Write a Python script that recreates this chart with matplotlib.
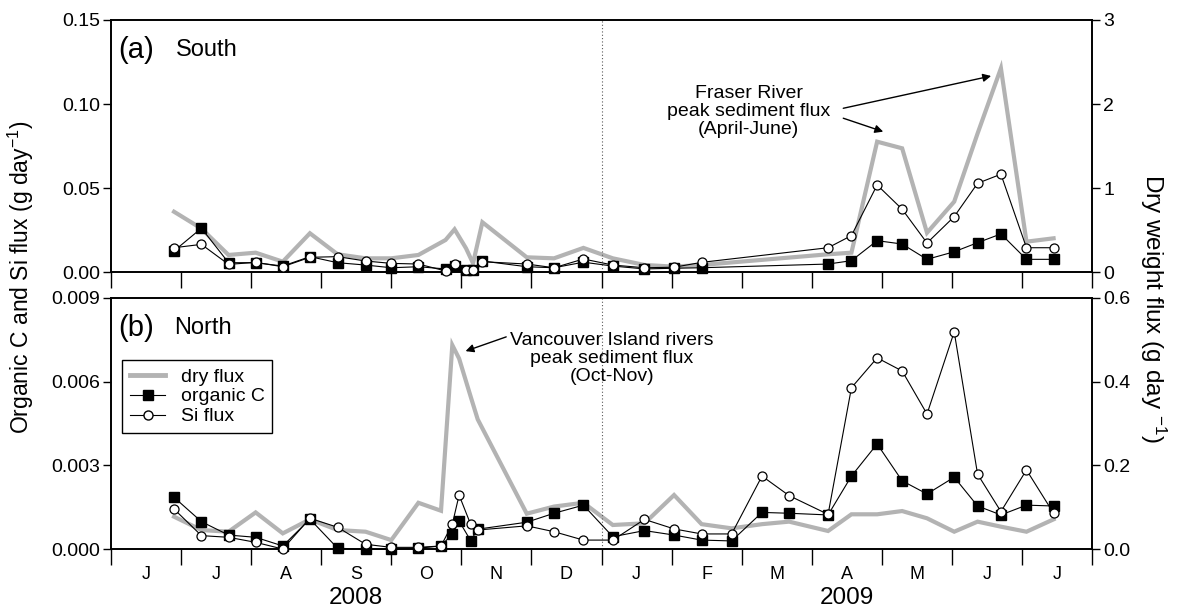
import numpy as np
import pandas as pd
import matplotlib
matplotlib.use('Agg')
import matplotlib.pyplot as plt
from matplotlib.lines import Line2D
from matplotlib.ticker import FormatStrFormatter

plt.rcParams['font.family'] = ['Liberation Sans', 'DejaVu Sans']
plt.rcParams['mathtext.fontset'] = 'custom'
plt.rcParams['mathtext.rm'] = 'Liberation Sans'
plt.rcParams['mathtext.it'] = 'Liberation Sans:italic'

# (a) South
south_dates = ['2008-06-28', '2008-07-10', '2008-07-22', '2008-08-03', '2008-08-15', '2008-08-27',
               '2008-09-08', '2008-09-20', '2008-10-01', '2008-10-13', '2008-10-25', '2008-10-29',
               '2008-11-03', '2008-11-06', '2008-11-10', '2008-11-29', '2008-12-11', '2008-12-24',
               '2009-01-06', '2009-01-20', '2009-02-02', '2009-02-13', '2009-04-08', '2009-04-18',
               '2009-04-29', '2009-05-10', '2009-05-21', '2009-06-02', '2009-06-12', '2009-06-22',
               '2009-07-03', '2009-07-15']
south_orgc = [0.0127, 0.0262, 0.0057, 0.0057, 0.0037, 0.0093, 0.0057, 0.0043, 0.0027, 0.0033,
              0.0020, 0.0040, 0.0014, 0.0014, 0.0067, 0.0033, 0.0027, 0.0060, 0.0037, 0.0020,
              0.0024, 0.0027, 0.0049, 0.0069, 0.0188, 0.0168, 0.0077, 0.0122, 0.0176, 0.0228,
              0.0077, 0.0077]
south_si = [0.0146, 0.0166, 0.0047, 0.0059, 0.0033, 0.0089, 0.0093, 0.0067, 0.0053, 0.0049,
            0.0008, 0.0049, 0.0014, 0.0014, 0.0063, 0.0049, 0.0027, 0.0079, 0.0043, 0.0027,
            0.0030, 0.0059, 0.0146, 0.0218, 0.0519, 0.0375, 0.0174, 0.0331, 0.0529, 0.0583,
            0.0146, 0.0146]
south_dry = [0.72, 0.52, 0.206, 0.233, 0.126, 0.464, 0.214, 0.166, 0.166, 0.206,
             0.384, 0.511, 0.285, 0.107, 0.595, 0.178, 0.166, 0.29, 0.166, 0.087,
             0.067, 0.087, 0.214, 0.233, 1.553, 1.474, 0.47, 0.84, 1.65, 2.426,
             0.364, 0.404]

# (b) North
north_dates = ['2008-06-28', '2008-07-10', '2008-07-22', '2008-08-03', '2008-08-15', '2008-08-27',
               '2008-09-08', '2008-09-20', '2008-10-01', '2008-10-13', '2008-10-23', '2008-10-28',
               '2008-10-31', '2008-11-05', '2008-11-08', '2008-11-29', '2008-12-11', '2008-12-24',
               '2009-01-06', '2009-01-20', '2009-02-02', '2009-02-13', '2009-02-25', '2009-03-10',
               '2009-03-22', '2009-04-08', '2009-04-18', '2009-04-29', '2009-05-10', '2009-05-21',
               '2009-06-02', '2009-06-12', '2009-06-22', '2009-07-03', '2009-07-15']
north_orgc = [0.00186, 0.00099, 0.00051, 0.00043, 0.00012, 0.00108, 0.00004, 0.0, 0.0, 0.00004,
              0.00012, 0.00055, 0.00101, 0.00031, 0.00072, 0.00097, 0.00129, 0.00158, 0.00045, 0.00067,
              0.00051, 0.00033, 0.00030, 0.00132, 0.00129, 0.00123, 0.00262, 0.00377, 0.00245, 0.00198,
              0.00258, 0.00155, 0.00123, 0.00158, 0.00155]
north_si = [0.00144, 0.00049, 0.00043, 0.00025, 0.00001, 0.00111, 0.00079, 0.00018, 0.00007, 0.00007,
            0.00012, 0.00090, 0.00194, 0.00089, 0.00069, 0.00084, 0.00063, 0.00033, 0.00033, 0.00107,
            0.00073, 0.00055, 0.00055, 0.00262, 0.00192, 0.00125, 0.00578, 0.00685, 0.00638, 0.00484,
            0.00778, 0.00269, 0.00135, 0.00284, 0.00129]
north_dry = [0.0778, 0.046, 0.042, 0.088, 0.038, 0.0715, 0.046, 0.042, 0.022, 0.111,
             0.092, 0.487, 0.455, 0.364, 0.31, 0.085, 0.102, 0.111, 0.058, 0.062,
             0.1295, 0.06, 0.05, 0.06, 0.066, 0.0437, 0.0835, 0.0835, 0.0913, 0.074,
             0.042, 0.066, 0.054, 0.042, 0.0715]

month_labels = ['J', 'J', 'A', 'S', 'O', 'N', 'D', 'J', 'F', 'M', 'A', 'M', 'J', 'J']
year_labels = ['2008', '2009']

GREY = '#b3b3b3'


def month_pos(dates):
    d = pd.to_datetime(pd.Series(dates))
    return ((d.dt.year - 2008) * 12 + d.dt.month - 6 + (d.dt.day - 1) / d.dt.days_in_month).to_numpy()


def panel(ax, dates, orgc, si, dry, ymax, dmax, yfmt, dfmt):
    x = month_pos(dates)
    ax2 = ax.twinx()
    ax2.plot(x, dry, color=GREY, lw=3.0, solid_joinstyle='miter', clip_on=False)
    ax.plot(x, orgc, color='black', lw=0.8, marker='s', ms=6.5, mfc='black', mec='black', clip_on=False, zorder=3)
    ax.plot(x, si, color='black', lw=0.8, marker='o', ms=6.5, mfc='white', mec='black', mew=0.9, clip_on=False, zorder=4)
    ax.set_zorder(ax2.get_zorder() + 1)
    ax.patch.set_visible(False)

    ax.set_xlim(0, 14)
    ax.set_ylim(0, ymax)
    ax2.set_ylim(0, dmax)
    ax.set_yticks(np.linspace(0, ymax, 4))
    ax2.set_yticks(np.linspace(0, dmax, 4))
    ax.yaxis.set_major_formatter(FormatStrFormatter(yfmt))
    ax2.yaxis.set_major_formatter(FormatStrFormatter(dfmt))
    ax.set_xticks(np.arange(0, 15))
    ax.set_xticks(np.arange(14) + 0.5, minor=True)
    ax.tick_params(axis='x', which='major', length=11.5, width=1, labelbottom=False)
    ax.tick_params(axis='y', length=6, width=1, labelsize=14, pad=2)
    ax2.tick_params(axis='y', length=6, width=1, labelsize=14, pad=2)
    for a in (ax, ax2):
        for s in a.spines.values():
            s.set_linewidth(1.2)
    ax.axvline(7, color='0.35', ls=(0, (1, 2)), lw=0.8, zorder=0)
    return ax2


fig = plt.figure(figsize=(11.77, 6.09), dpi=100)
ax_s = fig.add_axes([0.0943, 0.5529, 0.8335, 0.4143])
ax_n = fig.add_axes([0.0943, 0.0980, 0.8335, 0.4131])

panel(ax_s, south_dates, south_orgc, south_si, south_dry, 0.15, 3, '%.2f', '%d')
panel(ax_n, north_dates, north_orgc, north_si, north_dry, 0.009, 0.6, '%.3f', '%.1f')

ax_s.tick_params(axis='x', which='minor', length=0, labelbottom=False)
ax_n.tick_params(axis='x', which='minor', length=0, labelbottom=True, labelsize=13, pad=12)
ax_n.set_xticklabels(month_labels, minor=True)

for i, yr in enumerate(year_labels):
    ax_n.text(3.5 + 7 * i, -0.195, yr, transform=ax_n.get_xaxis_transform(),
              ha='center', va='center', fontsize=17.5)

# panel labels
ax_s.text(0.0077, 0.881, '(a)', transform=ax_s.transAxes, fontsize=21, va='center', ha='left')
ax_s.text(0.066, 0.881, 'South', transform=ax_s.transAxes, fontsize=17, va='center', ha='left')
ax_n.text(0.0077, 0.878, '(b)', transform=ax_n.transAxes, fontsize=21, va='center', ha='left')
ax_n.text(0.064, 0.878, 'North', transform=ax_n.transAxes, fontsize=17, va='center', ha='left')

# annotations
arrow = dict(arrowstyle='-|>', color='black', lw=1.0, mutation_scale=12, shrinkA=0, shrinkB=0)
ax_s.text(9.1, 0.0955, 'Fraser River\npeak sediment flux\n(April-June)', ha='center', va='center',
          fontsize=14, linespacing=1.1)
ax_s.annotate('', xy=(12.56, 0.1167), xytext=(10.45, 0.0975), arrowprops=arrow)
ax_s.annotate('', xy=(11.02, 0.0836), xytext=(10.45, 0.0916), arrowprops=arrow)

ax_n.text(7.15, 0.00683, 'Vancouver Island rivers\npeak sediment flux\n(Oct-Nov)', ha='center', va='center',
          fontsize=14, linespacing=1.1)
ax_n.annotate('', xy=(5.06, 0.00709), xytext=(5.64, 0.0076), arrowprops=arrow)

# legend
handles = [Line2D([], [], color=GREY, lw=3.5),
           Line2D([], [], color='black', lw=0.8, marker='s', ms=6.5, mfc='black'),
           Line2D([], [], color='black', lw=0.8, marker='o', ms=6.5, mfc='white', mec='black')]
leg = ax_n.legend(handles, ['dry flux', 'organic C', 'Si flux'], loc='upper left',
                  bbox_to_anchor=(0.0117, 0.752), borderaxespad=0, fontsize=14,
                  handlelength=1.8, handletextpad=0.8, labelspacing=0.12, borderpad=0.4,
                  fancybox=False, framealpha=1, edgecolor='black')
leg.get_frame().set_linewidth(1.0)

fig.text(21 / 1177, 1 - 277 / 609, 'Organic C and Si flux (g day$^{-1}$)', rotation=90,
         ha='center', va='center', fontsize=16.5)
fig.text(1153 / 1177, 1 - 308 / 609, 'Dry weight flux (g day $^{-1}$)', rotation=270,
         ha='center', va='center', fontsize=17.5)

fig.savefig('out.png', dpi=100)
